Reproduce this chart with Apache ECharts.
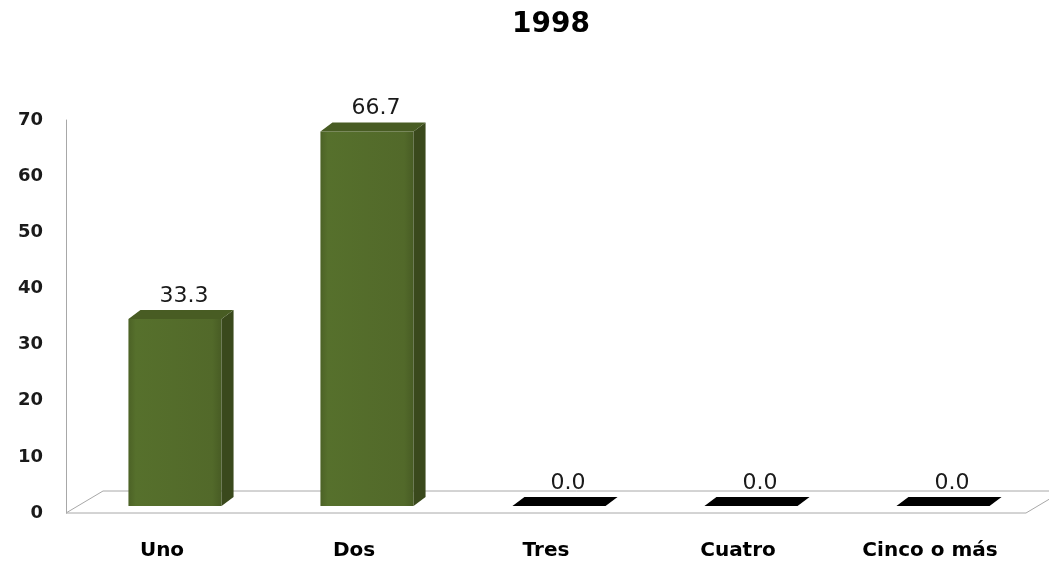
<!DOCTYPE html>
<html>
<head>
<meta charset="utf-8">
<script src="https://cdn.jsdelivr.net/npm/echarts@6/dist/echarts.min.js"></script>
<style>
html,body{margin:0;padding:0;background:#fff;}
#chart{width:1049px;height:564px;}
</style>
</head>
<body>
<div id="chart"></div>
<script>
const titleText = '1998';
const categories = ['Uno', 'Dos', 'Tres', 'Cuatro', 'Cinco o más'];
const values = [33.3, 66.7, 0.0, 0.0, 0.0];
const yMin = 0, yMax = 70, yInterval = 10;

const chart = echarts.init(document.getElementById('chart'), null, {renderer: 'canvas'});

function renderFloor(params, api) {
  const c = api.coord([0, 0]);
  const band = api.size([1, 0])[0];
  const L = c[0] - band / 2;
  const R = L + band * categories.length;
  const y0 = c[1];
  const dx = 37, dy = 22;
  return {
    type: 'polygon',
    shape: {points: [[L, y0], [R, y0], [R + dx, y0 - dy], [L + dx, y0 - dy]]},
    style: {fill: '#ffffff', stroke: '#a8a8a8', lineWidth: 1}
  };
}

function renderBar(params, api) {
  const idx = api.value(0);
  const v = api.value(1);
  const base = api.coord([idx, 0]);
  const top = api.coord([idx, v]);
  const band = api.size([1, 0])[0];
  const w = band * 0.485;
  const cx = base[0] + 13;
  const lift = 7;
  const x0 = cx - w / 2, x1 = cx + w / 2;
  const yb = base[1] - lift, yt = top[1] - lift;
  const dx = 12, dy = 9;
  const children = [];
  if (v > 0) {
    children.push({
      type: 'rect',
      shape: {x: x0, y: yt, width: w, height: yb - yt},
      style: {
        fill: new echarts.graphic.LinearGradient(0, 0, 1, 0, [
          {offset: 0, color: '#4c6226'},
          {offset: 0.08, color: '#56702c'},
          {offset: 0.9, color: '#52692a'},
          {offset: 1, color: '#485c24'}
        ])
      }
    });
    children.push({
      type: 'polygon',
      shape: {points: [[x1, yt], [x1 + dx, yt - dy], [x1 + dx, yb - dy], [x1, yb]]},
      style: {fill: '#3a491c'}
    });
    children.push({
      type: 'polygon',
      shape: {points: [[x0, yt], [x0 + dx, yt - dy], [x1 + dx, yt - dy], [x1, yt]]},
      style: {fill: '#485c23'}
    });
  } else {
    children.push({
      type: 'polygon',
      shape: {points: [[x0, yb], [x0 + dx, yb - dy], [x1 + dx, yb - dy], [x1, yb]]},
      style: {fill: '#000000'}
    });
  }
  children.push({
    type: 'text',
    style: {
      x: cx + dx / 2 + 3,
      y: yt - dy - 3,
      text: v.toFixed(1),
      fill: '#1a1a1a',
      font: '22px "DejaVu Sans"',
      textAlign: 'center',
      textVerticalAlign: 'bottom'
    }
  });
  return {type: 'group', children: children};
}

const option = {
  backgroundColor: '#ffffff',
  animation: false,
  title: {
    text: titleText,
    left: 546,
    textAlign: 'center',
    top: 6,
    textStyle: {fontFamily: 'DejaVu Sans', fontWeight: 'bold', fontSize: 28, color: '#000'}
  },
  grid: {left: 66, top: 120, width: 960, bottom: 51, containLabel: false},
  xAxis: {
    type: 'category',
    data: categories,
    axisLine: {show: false},
    axisTick: {show: false},
    axisLabel: {margin: 28, fontFamily: 'DejaVu Sans', fontWeight: 'bold', fontSize: 20, color: '#000'},
    splitLine: {show: false}
  },
  yAxis: {
    type: 'value',
    min: yMin, max: yMax, interval: yInterval,
    axisLine: {show: true, lineStyle: {color: '#a8a8a8', width: 1}},
    axisTick: {show: false},
    splitLine: {show: false},
    axisLabel: {margin: 23, fontFamily: 'DejaVu Sans', fontWeight: 'bold', fontSize: 18, color: '#1a1a1a'}
  },
  series: [
    {
      type: 'custom',
      name: 'floor',
      renderItem: renderFloor,
      data: [[0, 0]],
      z: 1,
      silent: true
    },
    {
      type: 'custom',
      name: '1998',
      renderItem: renderBar,
      data: values.map((v, i) => [i, v]),
      encode: {x: 0, y: 1},
      z: 3
    }
  ]
};
chart.setOption(option);
</script>
</body>
</html>
